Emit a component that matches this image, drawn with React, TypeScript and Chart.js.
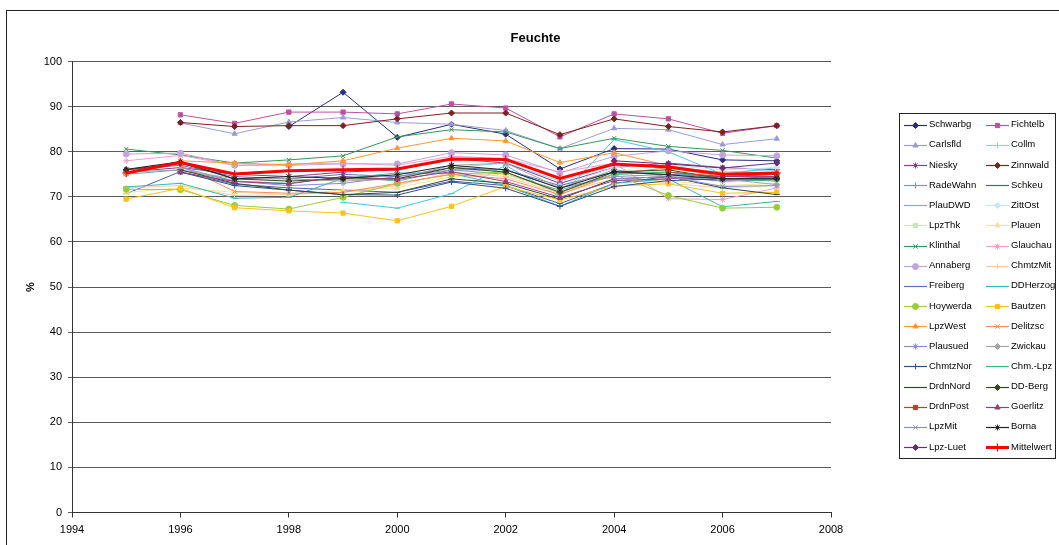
import { useEffect, useRef } from 'react';
import { Chart, registerables } from 'chart.js';
import { drawPoint } from 'chart.js/helpers';

Chart.register(...registerables);

const years = [1995, 1996, 1997, 1998, 1999, 2000, 2001, 2002, 2003, 2004, 2005, 2006, 2007];
const yTicks = [0, 10, 20, 30, 40, 50, 60, 70, 80, 90, 100];
const xTicks = [1994, 1996, 1998, 2000, 2002, 2004, 2006, 2008];

const schwarbg = [null, null, null, 85.6, 93.2, 83.2, 86.1, 83.9, 76.2, 80.7, 80.6, 78.2, 78.0];
const fichtelb = [null, 88.2, 86.3, 88.8, 88.8, 88.4, 90.6, 89.7, 83.3, 88.4, 87.3, 84.1, 85.8];
const carlsfld = [null, 86.4, 84.0, 86.6, 87.6, 86.5, 86.1, 84.7, 80.7, 85.2, 84.9, 81.6, 82.9];
const collm = [null, null, null, null, null, null, 76.5, 77.5, 73.5, 77.0, 76.5, 75.5, 76.0];
const niesky = [75.5, 76.5, 75.0, 74.5, 75.5, 76.0, 78.5, 77.5, 73.0, 76.5, 77.5, 76.5, 76.0];
const zinnwald = [null, 86.5, 85.6, 85.8, 85.8, 87.3, 88.6, 88.6, 83.8, 87.3, 85.6, 84.4, 85.8];
const radeWahn = [75.0, 76.0, 73.5, 73.0, 74.5, 73.5, 76.0, 75.0, 71.5, 75.0, 75.5, 74.0, 74.5];
const schkeu = [70.7, 75.6, 72.8, 72.0, 71.5, 71.0, 73.5, 72.5, 68.5, 73.0, 74.5, 73.5, 73.8];
const plauDWD = [null, null, null, null, 68.8, 67.5, 70.7, 77.0, 70.0, 82.7, 80.0, 75.0, 76.5];
const zittOst = [null, null, null, null, null, null, null, null, 72.5, 76.5, 77.0, 76.0, 76.5];
const lpzThk = [null, null, null, null, null, null, null, null, null, 76.0, 75.5, 74.5, 75.0];
const plauen = [71.0, 72.0, 71.0, 70.5, 71.5, 72.0, 74.5, 75.0, 71.0, 74.0, 73.5, 72.5, 73.0];
const klinthal = [80.6, 79.3, 77.5, 78.2, 79.1, 83.3, 84.9, 84.4, 80.7, 83.0, 81.2, 80.3, 78.6];
const glauchau = [78.0, 79.2, 77.0, 77.3, 77.5, 77.0, 79.0, 78.5, 75.5, 77.5, 69.6, 69.4, 72.0];
const annaberg = [79.5, 79.7, 77.0, 77.0, 77.3, 77.3, 79.8, 79.3, 75.3, 79.0, 80.2, 79.3, 79.1];
const chmtzMit = [72.0, 72.5, 70.3, 70.5, 71.0, 72.5, 75.5, 74.5, 70.8, 74.0, 73.0, 72.0, 72.5];
const freiberg = [76.0, 77.0, 74.5, 74.0, 75.0, 74.5, 76.5, 76.0, 72.5, 75.5, 75.0, 74.5, 75.0];
const ddHerzog = [72.2, 73.0, 69.7, 69.9, 74.1, 75.3, 75.2, 72.5, 67.9, 73.0, 74.0, 67.8, 69.0];
const hoywerda = [71.7, 71.6, 68.1, 67.3, 69.9, 73.0, 75.0, 75.5, 71.0, 75.0, 70.3, 67.5, 67.7];
const bautzen = [69.5, 71.9, 67.6, 66.9, 66.4, 64.7, 67.9, 72.3, 69.3, 72.4, 72.9, 70.8, 71.0];
const lpzWest = [75.0, 78.0, 77.5, 77.1, 78.0, 80.8, 83.0, 82.4, 77.6, 79.8, 76.9, 75.2, 75.3];
const delitzsc = [null, 77.0, 71.2, 70.8, 71.0, 73.0, 75.0, 74.0, 70.5, 75.0, 76.5, 74.5, 75.5];
const plausued = [null, 76.5, 73.5, 72.5, 73.0, 74.5, 76.0, 76.0, 72.0, 74.5, 75.0, 73.5, 74.0];
const zwickau = [75.5, 76.0, 74.0, 74.0, 73.5, 74.0, 77.0, 77.5, 72.0, 76.0, 74.5, 74.0, 72.7];
const chmtzNor = [null, 75.5, 72.5, 71.5, 70.5, 70.4, 73.3, 71.9, 67.9, 72.3, 73.6, 74.0, 74.0];
const chmLpz = [null, null, null, null, null, null, null, null, null, 75.0, 75.5, 74.0, 73.5];
const drdnNord = [null, 76.0, 73.0, 71.5, 70.5, 71.0, 74.0, 73.0, 69.5, 74.0, 74.5, 72.0, 70.5];
const ddBerg = [76.0, 77.5, 74.0, 73.5, 74.0, 74.0, 76.5, 75.5, 71.0, 75.5, 76.0, 74.0, 74.0];
const drdnPost = [null, null, null, null, null, null, null, null, null, null, 75.5, 74.5, 75.0];
const goerlitz = [null, 75.4, 73.4, 72.9, 74.5, 73.9, 75.6, 73.4, 69.9, 73.6, 74.0, 74.5, 74.5];
const lpzMit = [null, null, null, null, null, null, null, null, null, 74.0, 74.5, 72.3, 72.5];
const borna = [76.1, 77.8, 74.0, 74.5, 74.1, 74.9, 77.0, 76.0, 71.9, 75.6, 74.9, 74.0, 74.2];
const lpzLuet = [null, null, null, null, null, null, null, null, null, 78.0, 77.3, 76.4, 77.5];
const mittelwert = [75.3, 77.6, 75.1, 75.8, 76.0, 76.2, 78.4, 78.3, 74.1, 77.3, 76.6, 75.0, 75.3];

const series = [
  { label: 'Schwarbg', data: schwarbg, color: '#2B2B80', style: 'rectRot' },
  { label: 'Fichtelb', data: fichtelb, color: '#C0509E', style: 'rect' },
  { label: 'Carlsfld', data: carlsfld, color: '#9B9BDB', style: 'triangle' },
  { label: 'Collm', data: collm, color: '#7FD8E8', style: 'cross' },
  { label: 'Niesky', data: niesky, color: '#8E3A8E', style: 'star' },
  { label: 'Zinnwald', data: zinnwald, color: '#7F1F1F', style: 'rectRot' },
  { label: 'RadeWahn', data: radeWahn, color: '#5AAAA8', style: 'cross' },
  { label: 'Schkeu', data: schkeu, color: '#4C5CB0', style: 'line' },
  { label: 'PlauDWD', data: plauDWD, color: '#40C8EC', style: 'line' },
  { label: 'ZittOst', data: zittOst, color: '#C4E8F2', style: 'rectRot' },
  { label: 'LpzThk', data: lpzThk, color: '#C6E6C0', style: 'rect' },
  { label: 'Plauen', data: plauen, color: '#F0E68A', style: 'triangle' },
  { label: 'Klinthal', data: klinthal, color: '#3A955A', style: 'crossRot' },
  { label: 'Glauchau', data: glauchau, color: '#F2A0C8', style: 'star' },
  { label: 'Annaberg', data: annaberg, color: '#C4A2DE', style: 'circle' },
  { label: 'ChmtzMit', data: chmtzMit, color: '#F8CBA6', style: 'cross' },
  { label: 'Freiberg', data: freiberg, color: '#5A72C0', style: 'line' },
  { label: 'DDHerzog', data: ddHerzog, color: '#33B8B5', style: 'line' },
  { label: 'Hoywerda', data: hoywerda, color: '#98CC3A', style: 'circle' },
  { label: 'Bautzen', data: bautzen, color: '#F8C21A', style: 'rect' },
  { label: 'LpzWest', data: lpzWest, color: '#FF9A2E', style: 'triangle' },
  { label: 'Delitzsc', data: delitzsc, color: '#FF8A5C', style: 'crossRot' },
  { label: 'Plausued', data: plausued, color: '#8A8CCB', style: 'star' },
  { label: 'Zwickau', data: zwickau, color: '#A6A6A6', style: 'rectRot' },
  { label: 'ChmtzNor', data: chmtzNor, color: '#2E4C86', style: 'cross' },
  { label: 'Chm.-Lpz', data: chmLpz, color: '#3DB87A', style: 'line' },
  { label: 'DrdnNord', data: drdnNord, color: '#2C4A30', style: 'line' },
  { label: 'DD-Berg', data: ddBerg, color: '#3A461E', style: 'rectRot' },
  { label: 'DrdnPost', data: drdnPost, color: '#B2452E', style: 'rect' },
  { label: 'Goerlitz', data: goerlitz, color: '#9C3A7C', style: 'triangle' },
  { label: 'LpzMit', data: lpzMit, color: '#8C8ED2', style: 'crossRot' },
  { label: 'Borna', data: borna, color: '#222222', style: 'star' },
  { label: 'Lpz-Luet', data: lpzLuet, color: '#6A2C78', style: 'rectRot' },
  { label: 'Mittelwert', data: mittelwert, color: '#FF0000', style: 'cross' },
];

const FONT = "'Liberation Sans', Arial, Helvetica, sans-serif";

const frameBorder = {
  id: 'frameBorder',
  afterDraw(chart: any) {
    const ctx = chart.ctx;
    ctx.save();
    ctx.strokeStyle = '#222';
    ctx.lineWidth = 1;
    ctx.strokeRect(6.5, 10.5, 2000, 2000);
    ctx.restore();
  },
};

const sideLegend = {
  id: 'sideLegend',
  afterDraw(chart: any) {
    const ctx = chart.ctx;
    const bx = 899.5, by = 113.5, bw = 156, bh = 345;
    ctx.save();
    ctx.fillStyle = '#fff';
    ctx.fillRect(bx, by, bw, bh);
    ctx.strokeStyle = '#222';
    ctx.lineWidth = 1;
    ctx.strokeRect(bx, by, bw, bh);
    const ds = chart.data.datasets;
    ctx.font = `9.5px ${FONT}`;
    ctx.textBaseline = 'middle';
    ctx.textAlign = 'left';
    ds.forEach((d: any, i: number) => {
      const row = Math.floor(i / 2);
      const col = i % 2;
      const y = 124.6 + row * 20.15;
      const x0 = col === 0 ? 904 : 986;
      const x1 = x0 + 23;
      const isMean = d.label === 'Mittelwert';
      ctx.strokeStyle = d.borderColor;
      ctx.fillStyle = d.pointBackgroundColor;
      ctx.lineWidth = isMean ? 3 : 1.2;
      ctx.beginPath();
      ctx.moveTo(x0, Math.round(y) + 0.5);
      ctx.lineTo(x1, Math.round(y) + 0.5);
      ctx.stroke();
      ctx.lineWidth = 1;
      drawPoint(ctx, { pointStyle: d.pointStyle, radius: isMean ? 4 : 3, rotation: 0, borderWidth: 1 }, (x0 + x1) / 2, Math.round(y) + 0.5);
      ctx.fillStyle = '#000';
      ctx.fillText(d.label, x1 + 2, y);
    });
    ctx.restore();
  },
};

export default function App() {
  const ref = useRef<HTMLCanvasElement | null>(null);
  useEffect(() => {
    if (!ref.current) return;
    Chart.defaults.color = '#000';
    Chart.defaults.font.family = FONT;
    const n = series.length;
    const chart = new Chart(ref.current, {
      type: 'line',
      data: {
        datasets: series.map((s, i) => {
          const isMean = s.label === 'Mittelwert';
          return {
            label: s.label,
            data: years.map((yr, k) => ({ x: yr, y: s.data[k] })),
            borderColor: s.color,
            backgroundColor: s.color,
            pointBackgroundColor: s.color,
            pointBorderColor: s.color,
            pointStyle: s.style,
            pointRadius: isMean ? 4 : 3,
            pointBorderWidth: 1,
            borderWidth: isMean ? 3 : 1,
            tension: 0,
            spanGaps: false,
            order: isMean ? -1 : n - i,
          };
        }),
      },
      options: {
        responsive: false,
        animation: false,
        devicePixelRatio: 1,
        layout: { padding: { left: 12, right: 0, top: 0, bottom: 0 } },
        plugins: {
          legend: { display: false },
          tooltip: { enabled: false },
          title: {
            display: true,
            text: 'Feuchte',
            color: '#000',
            font: { size: 13, weight: 'bold', family: FONT },
            padding: { top: 31, bottom: 15 },
          },
        },
        scales: {
          x: {
            type: 'linear',
            min: xTicks[0],
            max: xTicks[xTicks.length - 1],
            afterBuildTicks: (s: any) => { s.ticks = xTicks.map((v) => ({ value: v })); },
            ticks: {
              callback: (v: any) => String(v),
              font: { size: 11, family: FONT },
              color: '#000',
              padding: 6,
              maxRotation: 0,
              autoSkip: false,
            },
            grid: { display: true, drawOnChartArea: false, drawTicks: true, tickLength: 5, color: '#333' },
            border: { display: true, color: '#333' },
            afterFit: (s: any) => { s.height = 32.5; },
          },
          y: {
            type: 'linear',
            min: yTicks[0],
            max: yTicks[yTicks.length - 1],
            afterBuildTicks: (s: any) => { s.ticks = yTicks.map((v) => ({ value: v })); },
            ticks: { font: { size: 11, family: FONT }, color: '#000', padding: 6 },
            grid: { color: '#5a5a5a', lineWidth: 1, tickLength: 4, drawTicks: true },
            border: { display: true, color: '#333' },
            title: {
              display: true,
              text: '%',
              color: '#000',
              font: { size: 11, weight: 'bold', family: FONT },
              padding: { top: 12, bottom: 0 },
            },
            afterFit: (s: any) => { s.width = 60; },
          },
          yR: {
            type: 'linear',
            position: 'right',
            display: true,
            grid: { display: false, drawTicks: false },
            border: { display: false },
            ticks: { display: false },
            afterFit: (s: any) => { s.width = 228; },
          },
        },
      },
      plugins: [frameBorder, sideLegend],
    } as any);
    return () => chart.destroy();
  }, []);
  return (
    <div style={{ position: 'absolute', left: 0, top: 0, width: 1059, height: 545 }}>
      <canvas ref={ref} width={1059} height={545} />
    </div>
  );
}
